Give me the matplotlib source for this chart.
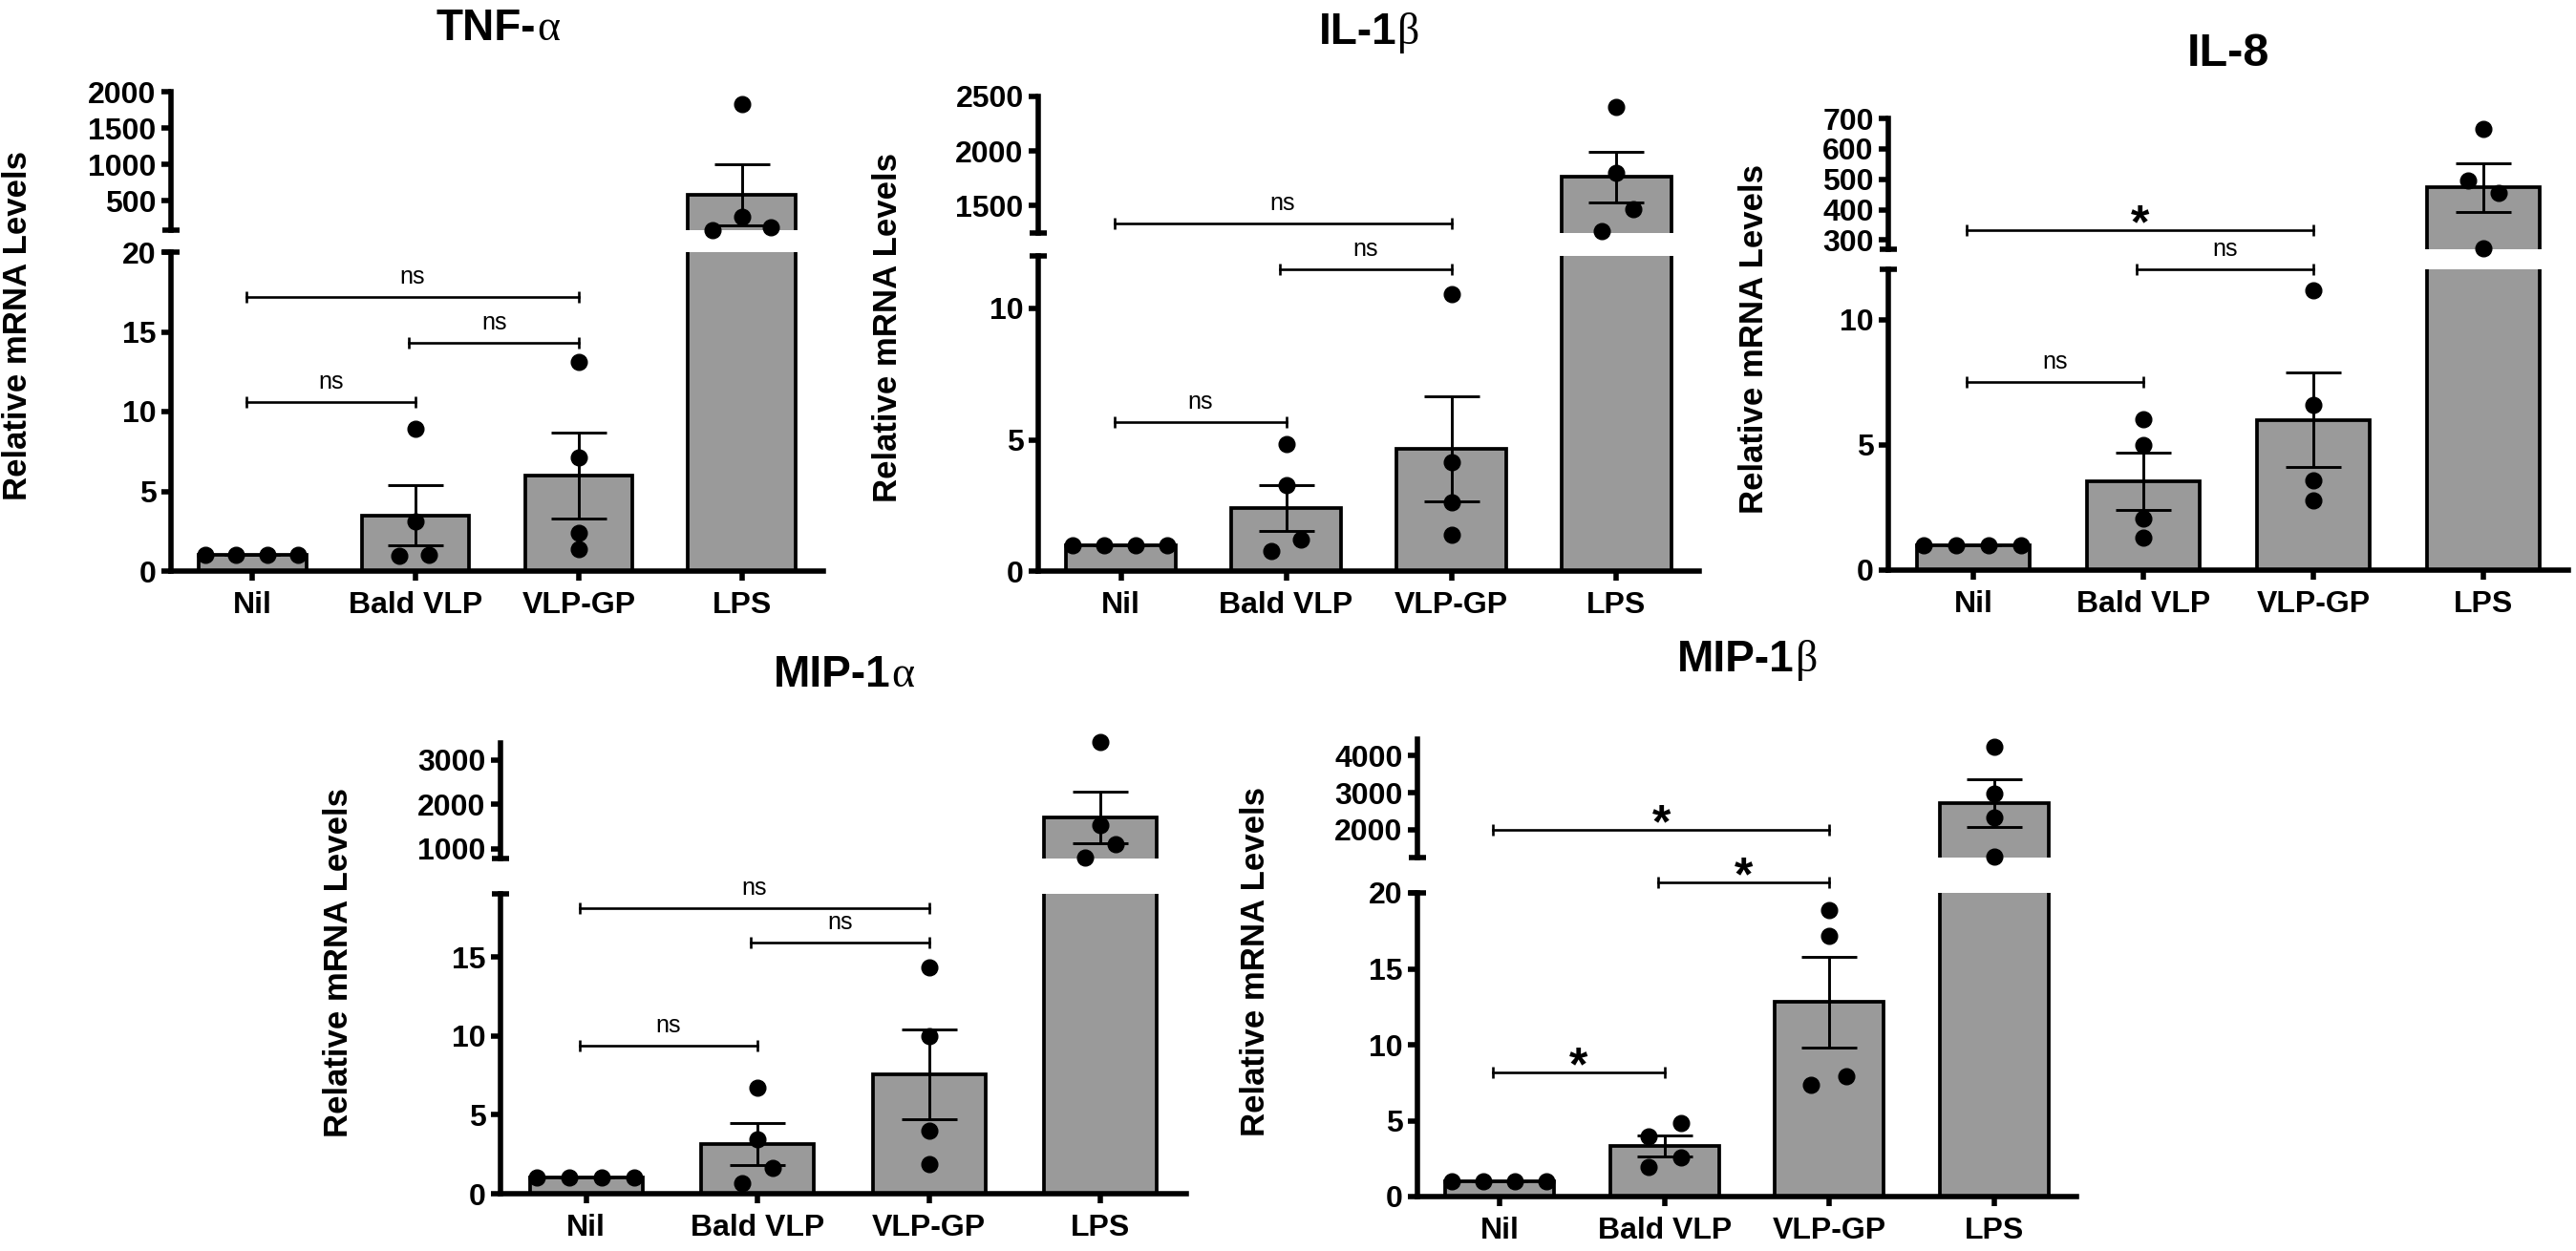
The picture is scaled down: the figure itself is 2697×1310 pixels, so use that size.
import numpy as np
import matplotlib
matplotlib.use('Agg')
import matplotlib.pyplot as plt

plt.rcParams['font.family'] = ['Liberation Sans', 'DejaVu Sans']
plt.rcParams['font.weight'] = 'bold'

# --- Daten ---

groups = ["Nil", "Bald VLP", "VLP-GP", "LPS"]
ylabel = "Relative mRNA Levels"

tnf_title = ("TNF-", "α")   # (Text, griechischer Buchstabe in Serifenschrift)
tnf_mean = [1.0, 3.5, 6.0, 585]
tnf_sem = [0, 1.88, 2.68, 420]
tnf_pts = [[1.0, 1.0, 1.0, 1.0], [8.9, 3.1, 0.93, 1.0], [13.1, 7.15, 2.4, 1.4], [1835, 279, 104, 142]]
tnf_sig = [(0, 2, "ns"), (1, 2, "ns"), (0, 1, "ns")]

il1b_title = ("IL-1", "β")
il1b_mean = [1.0, 2.4, 4.65, 1765]
il1b_sem = [0, 0.86, 2.0, 232]
il1b_pts = [[1.0, 1.0, 1.0, 1.0], [4.84, 3.27, 0.75, 1.19], [10.53, 4.15, 2.62, 1.39], [2408, 1802, 1270, 1470]]
il1b_sig = [(0, 2, "ns"), (1, 2, "ns"), (0, 1, "ns")]

il8_title = ("IL-8", "")
il8_mean = [1.0, 3.55, 6.0, 473]
il8_sem = [0, 1.15, 1.88, 80]
il8_pts = [[1.0, 1.0, 1.0, 1.0], [6.03, 4.99, 2.04, 1.28], [11.17, 6.58, 3.6, 2.79], [666, 497, 456, 273]]
il8_sig = [(0, 2, "*"), (1, 2, "ns"), (0, 1, "ns")]

mip1a_title = ("MIP-1", "α")
mip1a_mean = [1.0, 3.14, 7.58, 1705]
mip1a_sem = [0, 1.35, 2.85, 578]
mip1a_pts = [[1.0, 1.0, 1.0, 1.0], [6.71, 3.45, 1.61, 0.69], [14.35, 10.0, 4.02, 1.85], [3404, 1530, 1108, 793]]
mip1a_sig = [(0, 2, "ns"), (1, 2, "ns"), (0, 1, "ns")]

mip1b_title = ("MIP-1", "β")
mip1b_mean = [1.0, 3.33, 12.8, 2717]
mip1b_sem = [0, 0.68, 3.0, 640]
mip1b_pts = [[1.0, 1.0, 1.0, 1.0], [4.84, 3.99, 2.59, 1.93], [18.87, 17.18, 7.38, 7.95], [4256, 2967, 2333, 1278]]
mip1b_sig = [(0, 2, "*"), (1, 2, "*"), (0, 1, "*")]

# --- Layout (Pixel) ---

nil_dx = [-0.29, -0.1, 0.09, 0.28]   # horizontale Streuung der Punkte
tnf_dx = [nil_dx, [0, 0, -0.1, 0.08], [0, 0, 0, 0], [0, 0, -0.18, 0.18]]
il1b_dx = [nil_dx, [0, 0, -0.09, 0.09], [0, 0, 0, 0], [0, 0, -0.09, 0.1]]
il8_dx = [nil_dx, [0, 0, 0, 0], [0, 0, 0, 0], [0, -0.09, 0.09, 0]]
mip1a_dx = [nil_dx, [0, 0, 0.09, -0.09], [0, 0, 0, 0], [0, 0, 0.09, -0.09]]
mip1b_dx = [nil_dx, [0.1, -0.1, 0.1, -0.1], [0, 0, -0.11, 0.1], [0, 0, 0, 0]]

tnf_sig_y = [("lo", 17.2), ("lo", 14.3), ("lo", 10.6)]
il1b_sig_y = [("hi", 1335), ("lo", 11.5), ("lo", 5.67)]
il8_sig_y = [("hi", 333), ("lo", 12.0), ("lo", 7.5)]
mip1a_sig_y = [("lo", 18.1), ("lo", 15.9), ("lo", 9.4)]
mip1b_sig_y = [("hi", 2000), ("lo", 20.7), ("lo", 8.2)]

W, H = 2697, 1310
DPI = 100
gray = "#9a9a9a"
spine_lw = 4.0
fsize = 23

panels = [
    dict(title=tnf_title, mean=tnf_mean, sem=tnf_sem, pts=tnf_pts, dx=tnf_dx, sig=tnf_sig, sig_y=tnf_sig_y,
         x=(179, 862), y=(96, 241, 264, 598), title_y=42, title_fs=33, lab_off=160,
         hi_lim=(100, 2000), hi_ticks=[500, 1000, 1500, 2000], lo_lim=(0, 20), lo_ticks=[0, 5, 10, 15, 20]),
    dict(title=il1b_title, mean=il1b_mean, sem=il1b_sem, pts=il1b_pts, dx=il1b_dx, sig=il1b_sig, sig_y=il1b_sig_y,
         x=(1087, 1779), y=(101, 244, 268, 598), title_y=46, title_fs=33, lab_off=158,
         hi_lim=(1250, 2500), hi_ticks=[1500, 2000, 2500], lo_lim=(0, 12), lo_ticks=[0, 5, 10]),
    dict(title=il8_title, mean=il8_mean, sem=il8_sem, pts=il8_pts, dx=il8_dx, sig=il8_sig, sig_y=il8_sig_y,
         x=(1977, 2689), y=(124, 261, 282, 597), title_y=69, title_fs=35, lab_off=141,
         hi_lim=(270, 700), hi_ticks=[300, 400, 500, 600, 700], lo_lim=(0, 12), lo_ticks=[0, 5, 10]),
    dict(title=mip1a_title, mean=mip1a_mean, sem=mip1a_sem, pts=mip1a_pts, dx=mip1a_dx, sig=mip1a_sig, sig_y=mip1a_sig_y,
         x=(524, 1242), y=(778, 899, 936, 1250), title_y=719, title_fs=33, lab_off=169,
         hi_lim=(780, 3380), hi_ticks=[1000, 2000, 3000], lo_lim=(0, 19), lo_ticks=[0, 5, 10, 15]),
    dict(title=mip1b_title, mean=mip1b_mean, sem=mip1b_sem, pts=mip1b_pts, dx=mip1b_dx, sig=mip1b_sig, sig_y=mip1b_sig_y,
         x=(1484, 2174), y=(774, 898, 935, 1253), title_y=703, title_fs=33, lab_off=169,
         hi_lim=(1250, 4450), hi_ticks=[2000, 3000, 4000], lo_lim=(0, 20), lo_ticks=[0, 5, 10, 15, 20]),
]

fig = plt.figure(figsize=(W / DPI, H / DPI), dpi=DPI)
renderer = fig.canvas.get_renderer()


def draw_title(xc, yb, parts, fs):
    # fetter Text + griechischer Buchstabe in Serifenschrift, gemeinsam zentriert
    t1 = fig.text(0, 1 - yb / H, parts[0], ha="left", va="baseline", fontsize=fs, fontweight="bold")
    t2 = fig.text(0, 1 - yb / H, parts[1], ha="left", va="baseline", fontsize=fs,
                  family=["Liberation Serif", "DejaVu Serif"], fontweight="normal")
    w1 = t1.get_window_extent(renderer).width
    w2 = t2.get_window_extent(renderer).width if parts[1] else 0
    xl = xc - (w1 + w2) / 2
    t1.set_x(xl / W)
    t2.set_x((xl + w1 + 1) / W)


def draw_panel(p):
    x0, x1 = p["x"]
    ut, ub, lt, lb = p["y"]
    ax_hi = fig.add_axes([x0 / W, 1 - ub / H, (x1 - x0) / W, (ub - ut) / H])
    ax_lo = fig.add_axes([x0 / W, 1 - lb / H, (x1 - x0) / W, (lb - lt) / H])
    xpos = np.arange(len(groups))
    lo_top = p["lo_lim"][1]

    for ax in (ax_hi, ax_lo):
        ax.bar(xpos, p["mean"], width=0.66, color=gray, edgecolor="black", linewidth=2.7, zorder=2)
        ax.set_xlim(-0.5, 3.5)
        for s in ("top", "right"):
            ax.spines[s].set_visible(False)
        ax.spines["left"].set_linewidth(spine_lw)
        ax.spines["bottom"].set_linewidth(spine_lw)
        ax.tick_params(direction="out", length=7, width=spine_lw, labelsize=fsize, pad=4)
        ax.patch.set_alpha(0)

    ax_hi.spines["bottom"].set_visible(False)
    ax_hi.set_xticks([])
    ax_hi.set_ylim(*p["hi_lim"])
    ax_hi.set_yticks(p["hi_ticks"])
    ax_lo.set_ylim(*p["lo_lim"])
    ax_lo.set_yticks(p["lo_ticks"])
    ax_lo.set_xticks(xpos, groups)
    ax_lo.tick_params(axis="x", pad=8)

    # Achsenbruch-Markierungen
    ax_hi.plot([0], [0], marker="_", ms=13, mew=spine_lw, color="black", transform=ax_hi.transAxes, clip_on=False)
    ax_lo.plot([0], [1], marker="_", ms=13, mew=spine_lw, color="black", transform=ax_lo.transAxes, clip_on=False)

    # Fehlerbalken und Einzelwerte
    for i in xpos:
        ax = ax_hi if p["mean"][i] > lo_top else ax_lo
        ax.errorbar(i, p["mean"][i], yerr=p["sem"][i], fmt="none", ecolor="black",
                    elinewidth=2.1, capsize=21, capthick=2.1, zorder=3)
        for v, d in zip(p["pts"][i], p["dx"][i]):
            axp = ax_hi if v > lo_top else ax_lo
            axp.plot(i + d, v, "o", ms=12, color="black", clip_on=False, zorder=4)

    # Signifikanz-Klammern
    for (a, b, lab), (seg, yv) in zip(p["sig"], p["sig_y"]):
        ax = ax_hi if seg == "hi" else ax_lo
        xa, xb = a - 0.04, b
        ax.plot([xa, xb], [yv, yv], color="black", lw=1.9, marker="|", ms=8, mew=1.9, clip_on=False, zorder=5)
        if lab == "ns":
            ax.annotate(lab, xy=((xa + xb) / 2, yv), xytext=(0, 10), textcoords="offset points",
                        ha="center", va="baseline", fontsize=18, fontweight="normal", annotation_clip=False)
        else:
            ax.annotate(lab, xy=((xa + xb) / 2, yv), xytext=(0, -6), textcoords="offset points",
                        ha="center", va="baseline", fontsize=36, fontweight="bold", annotation_clip=False)

    draw_title((x0 + x1) / 2, p["title_y"], p["title"], p["title_fs"])
    fig.text((x0 - p["lab_off"]) / W, 1 - ((ut + lb) / 2 - 6) / H, ylabel, rotation=90,
             ha="center", va="center", fontsize=25, fontweight="bold")


for p in panels:
    draw_panel(p)

fig.savefig("out.png", dpi=DPI)
